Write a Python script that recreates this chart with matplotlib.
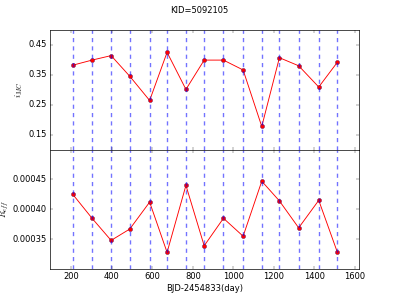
import numpy as np
import matplotlib
matplotlib.use('Agg')
import matplotlib.pyplot as plt

plt.style.use('classic')

t = [208, 303, 397, 489, 587, 673, 766, 856, 951, 1048, 1140, 1227, 1322, 1421, 1513]
inc = [0.382, 0.399, 0.414, 0.345, 0.264, 0.425, 0.301, 0.399, 0.399, 0.366,
       0.177, 0.407, 0.380, 0.309, 0.392]
reff = [0.000425, 0.000385, 0.000348, 0.000367, 0.000412, 0.000328, 0.000440,
        0.000339, 0.000385, 0.000355, 0.000447, 0.000414, 0.000369, 0.000415,
        0.000328]

fig = plt.figure(figsize=(7.98, 5.98), dpi=50)
fig.suptitle('KID=5092105', fontsize=12)

ax1 = plt.subplot(2, 1, 1)
ax1.plot(t, inc, 'r-o', mec='#300060', markersize=6, lw=1.3)
for x in t:
    ax1.axvline(x, color='b', ls='--', lw=2, alpha=0.55)
ax1.set_ylabel('$i_{MC}$', fontsize=13)
ax1.set_ylim(0.1, 0.5)
ax1.set_yticks([0.15, 0.25, 0.35, 0.45])
ax1.set_xlim(95, 1620)
plt.setp(ax1.get_xticklabels(), visible=False)

ax2 = plt.subplot(2, 1, 2, sharex=ax1)
ax2.plot(t, reff, 'r-o', mec='#300060', markersize=6, lw=1.3)
for x in t:
    ax2.axvline(x, color='b', ls='--', lw=2, alpha=0.55)
ax2.set_ylabel('$R_{eff}$', fontsize=13, labelpad=2)
ax2.set_ylim(0.0003, 0.0005)
ax2.set_yticks([0.00035, 0.0004, 0.00045])
ax2.set_xlim(95, 1620)
ax2.set_xticks([200, 400, 600, 800, 1000, 1200, 1400, 1600])
ax2.set_xlabel('BJD-2454833(day)')

plt.subplots_adjust(hspace=0)
plt.savefig('out.png', dpi=50)
